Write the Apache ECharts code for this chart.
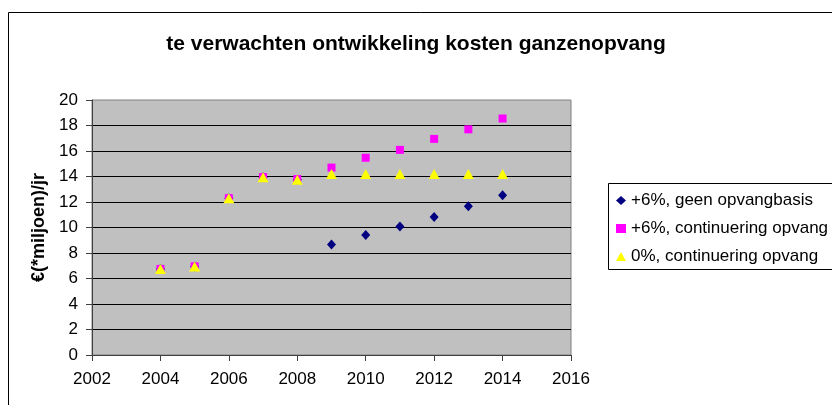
<!DOCTYPE html>
<html>
<head>
<meta charset="utf-8">
<title>te verwachten ontwikkeling kosten ganzenopvang</title>
<script src="https://cdn.jsdelivr.net/npm/echarts@6/dist/echarts.min.js"></script>
<style>
html, body { margin:0; padding:0; background:#fff; }
#chart { width:832px; height:405px; }
</style>
</head>
<body>
<div id="chart"></div>
<script>
// data
var years = [2004, 2005, 2006, 2007, 2008, 2009, 2010, 2011, 2012, 2013, 2014];
var geenOpvangbasis = [6.75, 6.95, 12.3, 13.95, 13.75, 8.66, 9.41, 10.08, 10.82, 11.67, 12.53];
var continuering6 = [6.75, 6.95, 12.3, 13.95, 13.8, 14.7, 15.47, 16.09, 16.95, 17.7, 18.55];
var continuering0 = [6.75, 6.95, 12.3, 13.95, 13.75, 14.2, 14.2, 14.2, 14.2, 14.2, 14.2];
var seriesNames = ['+6%, geen opvangbasis', '+6%, continuering opvang', '0%, continuering opvang'];
var xTicks = [2002, 2016, 2];
var yTicks = [0, 20, 2];

var font = 'Arial, "Liberation Sans", sans-serif';

function pairs(vals) {
	var out = [];
	for (var i = 0; i < years.length; i++) {
		out.push([years[i], vals[i]]);
	}
	return out;
}

var chart = echarts.init(document.getElementById('chart'));
var option = {
	animation: false,
	backgroundColor: '#fff',
	textStyle: { fontFamily: font },
	title: {
		text: 'te verwachten ontwikkeling kosten ganzenopvang',
		left: 'center',
		top: 29,
		textStyle: { fontSize: 21, fontWeight: 'bold', color: '#000', fontFamily: font }
	},
	// outer chart frame and legend frame (both run past the right edge)
	graphic: [{
		type: 'rect',
		shape: { x: 8.5, y: 12.5, width: 900, height: 500 },
		style: { fill: 'none', stroke: '#000', lineWidth: 1 },
		silent: true
	}, {
		type: 'rect',
		shape: { x: 608.5, y: 183.5, width: 300, height: 86 },
		style: { fill: 'none', stroke: '#000', lineWidth: 1 },
		silent: true
	}],
	grid: {
		left: 92, right: 261, top: 100, bottom: 50,
		show: true,
		backgroundColor: '#c0c0c0',
		borderColor: '#808080',
		borderWidth: 1
	},
	legend: {
		orient: 'vertical',
		left: 608,
		top: 183,
		data: seriesNames,
		padding: [9, 5, 6, 8],
		itemGap: 11,
		itemWidth: 10,
		itemHeight: 9,
		textStyle: { fontSize: 17, color: '#000', fontFamily: font }
	},
	xAxis: {
		type: 'value',
		min: xTicks[0], max: xTicks[1], interval: xTicks[2],
		axisLine: { lineStyle: { color: '#404040' } },
		axisTick: { show: true, length: 6, lineStyle: { color: '#404040' } },
		axisLabel: {
			color: '#000', fontSize: 17, margin: 16,
			formatter: function(v) { return String(v); }
		},
		splitLine: { show: false }
	},
	yAxis: {
		type: 'value',
		min: yTicks[0], max: yTicks[1], interval: yTicks[2],
		name: '€(*miljoen)/jr',
		nameLocation: 'middle',
		nameGap: 38,
		nameTextStyle: { fontSize: 18, fontWeight: 'bold', color: '#000', fontFamily: font },
		axisLine: { show: true, lineStyle: { color: '#404040' } },
		axisTick: { show: true, length: 6, lineStyle: { color: '#404040' } },
		axisLabel: { color: '#000', fontSize: 17, margin: 14 },
		splitLine: { show: true, showMaxLine: false, lineStyle: { color: '#000', width: 1 } }
	},
	series: [{
		name: seriesNames[0],
		type: 'scatter',
		symbol: 'diamond',
		symbolSize: [9, 10],
		itemStyle: { color: '#000080', opacity: 1 },
		data: pairs(geenOpvangbasis)
	}, {
		name: seriesNames[1],
		type: 'scatter',
		symbol: 'rect',
		symbolSize: 8,
		itemStyle: { color: '#ff00ff', opacity: 1 },
		data: pairs(continuering6)
	}, {
		name: seriesNames[2],
		type: 'scatter',
		symbol: 'triangle',
		symbolSize: [11, 10],
		itemStyle: { color: '#ffff00', opacity: 1 },
		data: pairs(continuering0)
	}]
};
chart.setOption(option);
</script>
</body>
</html>
